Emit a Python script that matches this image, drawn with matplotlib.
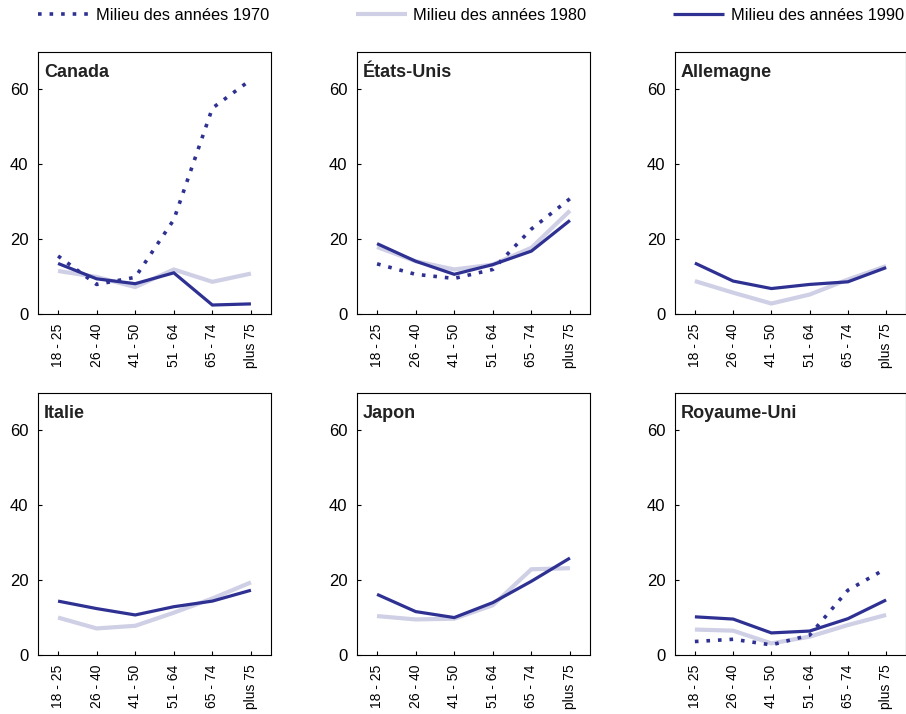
import matplotlib
matplotlib.use("Agg")
import matplotlib.pyplot as plt

plt.rcParams['font.family'] = ['Liberation Sans', 'DejaVu Sans']

age_groups = ["18 - 25", "26 - 40", "41 - 50", "51 - 64", "65 - 74", "plus 75"]
countries = ["Canada", "États-Unis", "Allemagne", "Italie", "Japon", "Royaume-Uni"]
series_labels = ["Milieu des années 1970", "Milieu des années 1980", "Milieu des années 1990"]

# mid-1970s (None = no data)
mid_1970 = {
    "Canada": [15.5, 7.9, 9.8, 25.2, 55.0, 62.6],
    "États-Unis": [13.4, 10.6, 9.5, 11.9, 22.7, 30.8],
    "Allemagne": None,
    "Italie": None,
    "Japon": None,
    "Royaume-Uni": [3.6, 4.2, 2.7, 5.3, 17.3, 23.1],
}
mid_1980 = {
    "Canada": [11.5, 9.9, 7.2, 11.9, 8.6, 10.8],
    "États-Unis": [17.9, 14.1, 11.9, 13.2, 17.7, 27.6],
    "Allemagne": [8.8, 5.7, 2.8, 5.2, 9.2, 12.8],
    "Italie": [10.0, 7.1, 7.8, 11.3, 15.1, 19.4],
    "Japon": [10.4, 9.5, 9.7, 13.3, 22.9, 23.2],
    "Royaume-Uni": [6.8, 6.5, 3.1, 4.9, 8.0, 10.7],
}
mid_1990 = {
    "Canada": [13.5, 9.4, 8.1, 11.0, 2.4, 2.7],
    "États-Unis": [18.8, 14.1, 10.6, 13.2, 16.8, 25.0],
    "Allemagne": [13.6, 8.8, 6.8, 7.9, 8.6, 12.4],
    "Italie": [14.4, 12.4, 10.7, 12.9, 14.4, 17.3],
    "Japon": [16.2, 11.6, 10.0, 14.0, 19.7, 25.9],
    "Royaume-Uni": [10.2, 9.6, 5.9, 6.4, 9.7, 14.7],
}

dark = "#2e3192"
light = "#cfcfe6"

fig = plt.figure(figsize=(9.06, 7.14), dpi=100)
W, H = 906.0, 714.0
lefts = [38, 357, 675]
widths = [233, 233, 231]
tops = [52, 393]
height = 262

x = list(range(len(age_groups)))
handles = []
for i, c in enumerate(countries):
    r, col = divmod(i, 3)
    ax = fig.add_axes([lefts[col] / W, 1 - (tops[r] + height) / H,
                       widths[col] / W, height / H])
    h80, = ax.plot(x, mid_1980[c], color=light, lw=3.0, solid_capstyle='butt',
                   solid_joinstyle='miter', zorder=2)
    h90, = ax.plot(x, mid_1990[c], color=dark, lw=2.3, solid_capstyle='butt',
                   solid_joinstyle='miter', zorder=3)
    if mid_1970[c] is not None:
        h70, = ax.plot(x, mid_1970[c], color=dark, lw=2.6, dashes=(1, 2.2),
                       dash_capstyle='butt', zorder=4)
        if not handles:
            handles = [h70, h80, h90]
    ax.set_xlim(-0.52, 5.52)
    ax.set_ylim(0, 70)
    ax.set_yticks([0, 20, 40, 60])
    ax.set_xticks(x)
    ax.set_xticklabels(age_groups, rotation=90, fontsize=10)
    ax.tick_params(axis='y', direction='in', length=3, width=0.8, labelsize=12, pad=7)
    ax.tick_params(axis='x', direction='in', length=3, width=0.8, pad=7)
    for s in ax.spines.values():
        s.set_linewidth(0.8)
    ax.text(0.025, 0.955, c, transform=ax.transAxes, fontsize=13,
            fontweight='bold', va='top', ha='left', color='#222222')

fig.legend(handles, series_labels, loc='upper left', ncol=3, frameon=False,
           bbox_to_anchor=(38 / W, 1 - 8 / H), borderpad=0, borderaxespad=0,
           fontsize=11.8, handlelength=3.1, handletextpad=0.42, columnspacing=5.3)

fig.savefig("out.png", dpi=100)
